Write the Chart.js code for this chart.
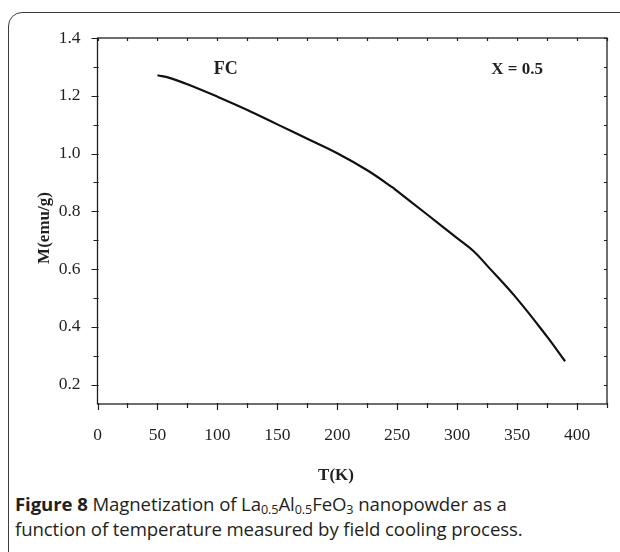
<!DOCTYPE html>
<html>
<head>
<meta charset="utf-8">
<script src="https://cdn.jsdelivr.net/npm/chart.js@4.4.1/dist/chart.umd.min.js"></script>
<style>
  html, body { margin: 0; padding: 0; background: #fff; }
  body { width: 620px; height: 552px; position: relative; overflow: hidden; }
  #card {
    position: absolute; left: 8px; top: 12px; width: 660px; height: 600px;
    border: 1.5px solid #3c3c3c; border-radius: 14px; box-sizing: border-box;
  }
  #plot { position: absolute; left: 0; top: 0; }
  #caption {
    position: absolute; left: 15px; top: 491px;
    font-family: "Open Sans", sans-serif; font-size: 18.6px; line-height: 25px;
    color: #231f20; white-space: nowrap; letter-spacing: -0.1px;
  }
  #caption b { font-weight: 700; }
  #caption sub { font-size: 68%; vertical-align: -3px; line-height: 0; }
</style>
</head>
<body>
<div id="card"></div>
<canvas id="plot" width="620" height="490"></canvas>
<div id="caption"><b>Figure 8</b> Magnetization of La<sub>0.5</sub>Al<sub>0.5</sub>FeO<sub>3</sub> nanopowder as a<br>function of temperature measured by field cooling process.</div>

<script>
// FC magnetization curve
const temps = [50, 60, 75, 100, 125, 150, 175, 200, 225, 247, 249, 275, 300, 314, 325, 350, 375, 390];
const magn = [1.271, 1.262, 1.240, 1.197, 1.151, 1.101, 1.051, 1.001, 0.942, 0.880, 0.873, 0.789, 0.707, 0.661, 0.612, 0.497, 0.366, 0.281];

// Tick labels
const xTicks = [0, 50, 100, 150, 200, 250, 300, 350, 400];
const yTicks = [0.2, 0.4, 0.6, 0.8, 1.0, 1.2, 1.4];

const ink = '#231f20';
const serif = '"Liberation Serif", "Times New Roman", serif';

// frame, minor ticks, titles and labels
const framePlugin = {
    id: 'frame',
    afterDraw(chart) {
        const { ctx, chartArea: a, scales: { x, y } } = chart;
        ctx.save();
        ctx.strokeStyle = ink;
        ctx.lineWidth = 1.3;
        ctx.strokeRect(a.left, a.top, a.right - a.left, a.bottom - a.top);

        ctx.lineWidth = 1.2;
        ctx.beginPath();
        // bottom + top ticks every 25
        for (let v = 0; v <= 425; v += 25) {
            const px = Math.round(x.getPixelForValue(v)) + 0.5;
            const major = v % 50 === 0;
            ctx.moveTo(px, a.bottom - 1);
            ctx.lineTo(px, a.bottom + (major ? 6 : 4));
            ctx.moveTo(px, a.top);
            ctx.lineTo(px, a.top + 3);
        }
        // left + right ticks every 0.1
        for (let i = 2; i <= 14; i++) {
            const py = Math.round(y.getPixelForValue(i / 10)) + 0.5;
            const major = i % 2 === 0;
            ctx.moveTo(a.left + 1, py);
            ctx.lineTo(a.left - (major ? 6 : 4), py);
            ctx.moveTo(a.right, py);
            ctx.lineTo(a.right - 3, py);
        }
        ctx.stroke();

        ctx.fillStyle = ink;
        ctx.textAlign = 'center';
        ctx.textBaseline = 'middle';
        ctx.font = 'bold 17px ' + serif;
        ctx.fillText('T(K)', 336, 476);

        ctx.save();
        ctx.translate(45, 228);
        ctx.rotate(-Math.PI / 2);
        ctx.fillText('M(emu/g)', 0, 0);
        ctx.restore();

        ctx.font = 'bold 18px ' + serif;
        ctx.fillText('FC', x.getPixelForValue(107), y.getPixelForValue(1.29));
        ctx.font = 'bold 17px ' + serif;
        ctx.fillText('X = 0.5', x.getPixelForValue(350), y.getPixelForValue(1.29));
        ctx.restore();
    }
};

new Chart('plot', {
    type: 'line',
    data: {
        datasets: [{
            data: temps.map((t, i) => ({ x: t, y: magn[i] })),
            borderColor: '#111',
            borderWidth: 2.2,
            pointRadius: 0,
            tension: 0.4,
            fill: false
        }]
    },
    options: {
        responsive: false,
        devicePixelRatio: 1,
        animation: false,
        layout: { padding: { left: 0, top: 38, right: 13, bottom: 0 } },
        plugins: {
            legend: { display: false },
            tooltip: { enabled: false }
        },
        scales: {
            x: {
                type: 'linear',
                min: 0,
                max: 425,
                afterBuildTicks: s => { s.ticks = xTicks.map(v => ({ value: v })); },
                afterFit: s => { s.height = 86; },
                grid: { display: false },
                border: { display: false },
                ticks: {
                    color: ink,
                    font: { family: serif, size: 17.5 },
                    padding: 13,
                    maxRotation: 0,
                    autoSkip: false
                }
            },
            y: {
                min: 0.133,
                max: 1.4,
                afterBuildTicks: s => { s.ticks = yTicks.map(v => ({ value: v })); },
                afterFit: s => { s.width = 97.5; },
                grid: { display: false },
                border: { display: false },
                ticks: {
                    color: ink,
                    font: { family: serif, size: 17.5 },
                    padding: 9,
                    callback: v => v.toFixed(1)
                }
            }
        }
    },
    plugins: [framePlugin]
});
</script>
</body>
</html>
